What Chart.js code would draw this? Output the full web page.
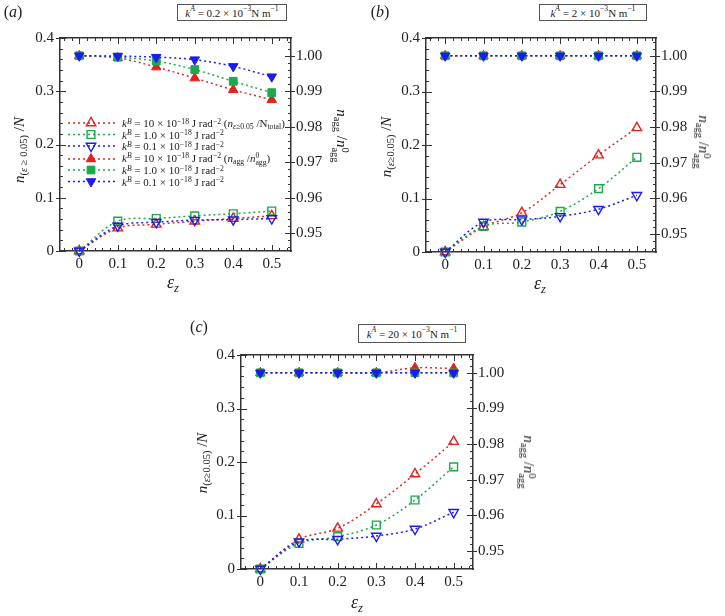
<!DOCTYPE html>
<html><head><meta charset="utf-8">
<script src="https://cdn.jsdelivr.net/npm/chart.js@4.4.1/dist/chart.umd.min.js"></script>
<style>
html,body{margin:0;padding:0;background:#fff}
body{width:725px;height:616px;position:relative;overflow:hidden;font-family:'Liberation Serif','Times New Roman',serif;color:#222}
canvas{position:absolute}
.t{position:absolute;white-space:nowrap;transform:translate(-50%,-50%);line-height:1}
.rl{transform:translate(-50%,-50%) rotate(-90deg)}
.rr{transform:translate(-50%,-50%) rotate(90deg)}
.ttl{font-size:15px}
.ttlx{font-size:18px}
.plab{font-size:16px}
.box{position:absolute;box-sizing:border-box;border:1.5px solid #555;font-size:11px;display:flex;align-items:center;justify-content:center;white-space:nowrap;background:#fff}
.leg{position:absolute;left:122px;font-size:11px;white-space:nowrap;transform:translateY(-50%);line-height:1}
sup,sub{font-size:70%;line-height:0;position:relative;vertical-align:baseline}
sup{top:-0.45em}
sub{top:0.3em}
.stk{display:inline-block;font-size:70%;line-height:0.95;vertical-align:-0.45em}
.stk span{display:block}
</style></head><body>
<canvas id="ca" width="362" height="300" style="left:0px;top:0px"></canvas>
<canvas id="cb" width="363" height="300" style="left:362px;top:0px"></canvas>
<canvas id="cc" width="362" height="316" style="left:180px;top:300px"></canvas>

<!-- panel a -->
<div class="t plab" style="left:13px;top:12px">(<i>a</i>)</div>
<div class="box" style="left:177px;top:4px;width:110px;height:17px"><i>k</i><sup><i>A</i></sup>&nbsp;= 0.2 × 10<sup>−3</sup> N m<sup>−1</sup></div>
<div class="t rl ttl" style="left:19px;top:150px"><i>n</i><sub>(<i>ε</i> ≥ 0.05)</sub> /<i>N</i></div>
<div class="t rr ttl" style="left:340px;top:136px"><i>n</i><sub>agg</sub> /<i>n</i><span class="stk"><span>0</span><span>agg</span></span></div>
<div class="t ttlx" style="left:173px;top:282px"><i>ε</i><sub><i>z</i></sub></div>

<div class="leg" style="top:123px"><i>k</i><sup><i>B</i></sup> = 10 × 10<sup>−18</sup> J rad<sup>−2</sup> (<i>n</i><sub><i>ε</i>≥0.05</sub> /N<sub>total</sub>)</div>
<div class="leg" style="top:134.5px"><i>k</i><sup><i>B</i></sup> = 1.0 × 10<sup>−18</sup> J rad<sup>−2</sup></div>
<div class="leg" style="top:146px"><i>k</i><sup><i>B</i></sup> = 0.1 × 10<sup>−18</sup> J rad<sup>−2</sup></div>
<div class="leg" style="top:159px"><i>k</i><sup><i>B</i></sup> = 10 × 10<sup>−18</sup> J rad<sup>−2</sup> (<i>n</i><sub>agg</sub> /<i>n</i><span class="stk"><span>0</span><span>agg</span></span>)</div>
<div class="leg" style="top:170px"><i>k</i><sup><i>B</i></sup> = 1.0 × 10<sup>−18</sup> J rad<sup>−2</sup></div>
<div class="leg" style="top:181.5px"><i>k</i><sup><i>B</i></sup> = 0.1 × 10<sup>−18</sup> J rad<sup>−2</sup></div>

<!-- panel b -->
<div class="t plab" style="left:380px;top:12px">(<i>b</i>)</div>
<div class="box" style="left:539px;top:4px;width:108px;height:17px"><i>k</i><sup><i>A</i></sup>&nbsp;= 2 × 10<sup>−3</sup> N m<sup>−1</sup></div>
<div class="t rl ttl" style="left:386px;top:147px"><i>n</i><sub>(<i>ε</i>≥0.05)</sub> /<i>N</i></div>
<div class="t rr ttl" style="left:702px;top:142px"><i>n</i><sub>agg</sub> /<i>n</i><span class="stk"><span>0</span><span>agg</span></span></div>
<div class="t ttlx" style="left:540px;top:283px"><i>ε</i><sub><i>z</i></sub></div>

<!-- panel c -->
<div class="t plab" style="left:199px;top:327px">(<i>c</i>)</div>
<div class="box" style="left:358px;top:324px;width:108px;height:19px"><i>k</i><sup><i>A</i></sup>&nbsp;= 20 × 10<sup>−3</sup> N m<sup>−1</sup></div>
<div class="t rl ttl" style="left:202px;top:463px"><i>n</i><sub>(<i>ε</i>≥0.05)</sub> /<i>N</i></div>
<div class="t rr ttl" style="left:527px;top:462px"><i>n</i><sub>agg</sub> /<i>n</i><span class="stk"><span>0</span><span>agg</span></span></div>
<div class="t ttlx" style="left:357px;top:602px"><i>ε</i><sub><i>z</i></sub></div>

<script>
// ---------- data ----------
const eps = [0, 0.1, 0.2, 0.3, 0.4, 0.5];
const xTicks = [0, 0.1, 0.2, 0.3, 0.4, 0.5];
const yTicks = [0, 0.1, 0.2, 0.3, 0.4];
const y2Ticks = [0.95, 0.96, 0.97, 0.98, 0.99, 1.00];

// panel (a): kA = 0.2e-3
const a_open_kB10 = [0, 0.043, 0.050, 0.056, 0.061, 0.066];
const a_open_kB1  = [0, 0.056, 0.061, 0.066, 0.070, 0.075];
const a_open_kB01 = [0, 0.047, 0.054, 0.058, 0.059, 0.061];
const a_agg_kB10  = [1.000, 0.9994, 0.9968, 0.9937, 0.9904, 0.9876];
const a_agg_kB1   = [1.000, 0.9996, 0.9985, 0.9961, 0.9928, 0.9896];
const a_agg_kB01  = [1.000, 0.9999, 0.9996, 0.9989, 0.9970, 0.9941];

// panel (b): kA = 2e-3
const b_open_kB10 = [0, 0.047, 0.0735, 0.126, 0.181, 0.232];
const b_open_kB1  = [0, 0.048, 0.056, 0.076, 0.1185, 0.177];
const b_open_kB01 = [0, 0.056, 0.0605, 0.0666, 0.080, 0.106];
const b_agg_kB10  = [1.000, 1.000, 1.000, 1.000, 1.000, 1.000];
const b_agg_kB1   = [1.000, 1.000, 1.000, 1.000, 1.000, 1.000];
const b_agg_kB01  = [1.000, 1.000, 1.000, 1.000, 1.000, 1.000];

// panel (c): kA = 20e-3
const c_open_kB10 = [0, 0.0555, 0.076, 0.1215, 0.1776, 0.238];
const c_open_kB1  = [0, 0.048, 0.0604, 0.0822, 0.129, 0.191];
const c_open_kB01 = [0, 0.051, 0.0555, 0.0617, 0.0748, 0.106];
const c_agg_kB10  = [1.000, 1.000, 1.000, 1.000, 1.0014, 1.0012];
const c_agg_kB1   = [1.000, 1.000, 1.000, 1.000, 1.000, 1.000];
const c_agg_kB01  = [1.000, 1.000, 1.000, 1.000, 1.000, 1.000];

// ---------- styles ----------
const RED = '#e3221d', GREEN = '#1ea84c', BLUE = '#1b1bf0';
const FONT = {family: "'Liberation Serif', 'Times New Roman', serif", size: 15};
const AXC = '#333';
const MR = 5.5;

function ds(vals, color, style, rot, filled, axis) {
  return {
    data: eps.map((x, i) => ({x: x, y: vals[i]})),
    yAxisID: axis,
    borderColor: color,
    backgroundColor: color,
    borderWidth: 1.5,
    borderDash: [2, 3],
    tension: 0.35,
    fill: false,
    clip: false,
    pointStyle: style,
    pointRotation: rot,
    pointRadius: MR,
    pointHoverRadius: MR,
    pointBorderWidth: filled ? 1 : 1.4,
    pointBorderColor: color,
    pointBackgroundColor: filled ? color : 'rgba(255,255,255,0)'
  };
}

function datasets(o10, o1, o01, g10, g1, g01) {
  // first dataset is drawn on top
  return [
    ds(g01, BLUE, 'triangle', 180, true, 'y2'),
    ds(g1, GREEN, 'rect', 0, true, 'y2'),
    ds(g10, RED, 'triangle', 0, true, 'y2'),
    ds(o01, BLUE, 'triangle', 180, false, 'y'),
    ds(o1, GREEN, 'rect', 0, false, 'y'),
    ds(o10, RED, 'triangle', 0, false, 'y')
  ];
}

const tickFrame = {
  id: 'tickFrame',
  beforeDatasetsDraw(chart) {
    const ctx = chart.ctx, ca = chart.chartArea;
    const sx = chart.scales.x, sy = chart.scales.y, sy2 = chart.scales.y2;
    ctx.save();
    ctx.strokeStyle = AXC; ctx.lineWidth = 1;
    ctx.beginPath();
    for (let i = -2; i <= 27; i++) {
      const px = Math.round(sx.getPixelForValue(i / 50)) + 0.5;
      const L = (i % 5 === 0) ? 6 : 3;
      ctx.moveTo(px, ca.bottom); ctx.lineTo(px, ca.bottom - L);
      ctx.moveTo(px, ca.top); ctx.lineTo(px, ca.top + L);
    }
    for (let i = 0; i <= 20; i++) {
      const py = Math.round(sy.getPixelForValue(i / 50)) + 0.5;
      const major = i % 5 === 0;
      ctx.moveTo(ca.left, py); ctx.lineTo(ca.left + (major ? 6 : 3), py);
      if (major) { ctx.moveTo(ca.left, py); ctx.lineTo(ca.left - 4, py); }
    }
    for (let i = 473; i <= 502; i++) {
      const py = Math.round(sy2.getPixelForValue(i / 500)) + 0.5;
      const major = i % 5 === 0;
      ctx.moveTo(ca.right, py); ctx.lineTo(ca.right - (major ? 6 : 3), py);
      if (major) { ctx.moveTo(ca.right, py); ctx.lineTo(ca.right + 4, py); }
    }
    ctx.stroke();
    ctx.restore();
  }
};

function marker(ctx, style, rot, x, y, r) {
  ctx.beginPath();
  if (style === 'rect') {
    const s = r * Math.SQRT1_2;
    ctx.rect(x - s, y - s, 2 * s, 2 * s);
  } else {
    const d = rot ? -1 : 1;
    ctx.moveTo(x, y - d * r);
    ctx.lineTo(x - r * Math.sin(Math.PI / 3), y + d * r / 2);
    ctx.lineTo(x + r * Math.sin(Math.PI / 3), y + d * r / 2);
    ctx.closePath();
  }
  ctx.fill(); ctx.stroke();
}

const legRows = [123, 134.5, 146, 159, 170, 181.5];
const legendSamples = {
  id: 'legendSamples',
  afterDraw(chart) {
    const ctx = chart.ctx;
    const order = [5, 4, 3, 2, 1, 0]; // legend order: open red, green, blue, filled red, green, blue
    order.forEach((di, row) => {
      const d = chart.data.datasets[di];
      const y = legRows[row];
      ctx.save();
      ctx.strokeStyle = d.borderColor; ctx.lineWidth = 1.5; ctx.setLineDash([2, 3]);
      ctx.beginPath(); ctx.moveTo(68, y); ctx.lineTo(117, y); ctx.stroke();
      ctx.setLineDash([]);
      ctx.fillStyle = d.pointBackgroundColor; ctx.lineWidth = d.pointBorderWidth;
      marker(ctx, d.pointStyle, d.pointRotation, 91, y, MR);
      ctx.restore();
    });
  }
};

function makeChart(id, dsets, g, extraPlugins) {
  const fixW = w => (s => { s.width = w; });
  const fixH = h => (s => { s.height = h; });
  return new Chart(document.getElementById(id), {
    type: 'line',
    data: {datasets: dsets},
    options: {
      responsive: false, animation: false, devicePixelRatio: 1,
      layout: {padding: 0},
      plugins: {legend: {display: false}, tooltip: {enabled: false}},
      events: [],
      scales: {
        x: {
          type: 'linear', position: 'bottom', min: -0.05, max: 0.55,
          afterBuildTicks: s => { s.ticks = xTicks.map(v => ({value: v})); },
          afterFit: fixH(g.botH),
          ticks: {font: FONT, color: '#222', padding: 4, maxRotation: 0,
                  callback: v => v === 0 ? '0' : v.toFixed(1)},
          grid: {display: false, drawTicks: false},
          border: {display: true, color: AXC, width: 1.5}
        },
        x2: {
          type: 'linear', position: 'top', min: -0.05, max: 0.55,
          afterFit: fixH(g.topH),
          ticks: {display: false},
          grid: {display: false, drawTicks: false},
          border: {display: true, color: AXC, width: 1.5}
        },
        y: {
          type: 'linear', position: 'left', min: 0, max: 0.4,
          afterBuildTicks: s => { s.ticks = yTicks.map(v => ({value: v})); },
          afterFit: fixW(g.yW),
          ticks: {font: FONT, color: '#222', padding: 6,
                  callback: v => v === 0 ? '0' : v.toFixed(1)},
          grid: {display: false, drawTicks: false},
          border: {display: true, color: AXC, width: 1.5}
        },
        y2: {
          type: 'linear', position: 'right', min: 0.945, max: 1.005,
          afterBuildTicks: s => { s.ticks = y2Ticks.map(v => ({value: v})); },
          afterFit: fixW(g.y2W),
          ticks: {font: FONT, color: '#222', padding: 5,
                  callback: v => v.toFixed(2)},
          grid: {display: false, drawTicks: false},
          border: {display: true, color: AXC, width: 1.5}
        }
      }
    },
    plugins: [tickFrame].concat(extraPlugins || [])
  });
}

makeChart('ca', datasets(a_open_kB10, a_open_kB1, a_open_kB01, a_agg_kB10, a_agg_kB1, a_agg_kB01),
          {yW: 60, y2W: 71, topH: 38, botH: 49}, [legendSamples]);
makeChart('cb', datasets(b_open_kB10, b_open_kB1, b_open_kB01, b_agg_kB10, b_agg_kB1, b_agg_kB01),
          {yW: 64, y2W: 69, topH: 38, botH: 48});
makeChart('cc', datasets(c_open_kB10, c_open_kB1, c_open_kB01, c_agg_kB10, c_agg_kB1, c_agg_kB01),
          {yW: 61, y2W: 69, topH: 55, botH: 47});
</script>
</body></html>
